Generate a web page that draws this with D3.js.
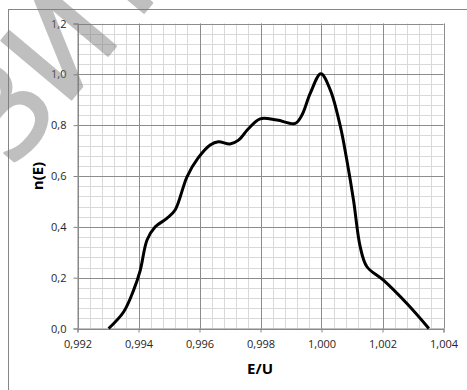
<!DOCTYPE html>
<html><head><meta charset="utf-8">
<script src="https://cdn.jsdelivr.net/npm/d3@7"></script>
<style>body{margin:0;background:#fff}svg{display:block}</style>
</head><body>
<svg id="c" width="467" height="390"></svg>
<script>
const energy = [0.99302,0.99351,0.99384,0.99406,0.99428,0.99455,0.99493,0.99520,0.99559,0.99595,0.99635,0.99662,0.99700,0.99728,0.99761,0.99799,0.99854,0.99914,0.99936,0.99963,0.99998,1.00029,1.00062,1.00083,1.00105,1.00127,1.00149,1.00203,1.00280,1.00352];
const density = [0.000,0.065,0.151,0.230,0.348,0.400,0.433,0.466,0.597,0.670,0.722,0.735,0.726,0.741,0.787,0.825,0.820,0.807,0.840,0.925,1.002,0.938,0.794,0.663,0.505,0.321,0.243,0.190,0.098,0.000];
const xTicks = [0.992,0.994,0.996,0.998,1.000,1.002,1.004];
const yTicks = [0,0.2,0.4,0.6,0.8,1.0,1.2];
const xTitle = "E/U", yTitle = "n(E)", watermark = "ЗИТ";

const svg = d3.select("#c");
const x = d3.scaleLinear().domain([0.992,1.004]).range([77.5,443.5]);
const y = d3.scaleLinear().domain([0,1.2]).range([328.5,23.5]);
const fmtX = v => d3.format(".3f")(v).replace(".", ",");
const fmtY = v => d3.format(".1f")(v).replace(".", ",");

// outer border
svg.append("rect").attr("x",8.5).attr("y",9.5).attr("width",480).attr("height",420)
  .attr("fill","none").attr("stroke","#868686").attr("stroke-width",1);

// minor grid
const minorX = d3.range(0,31).map(i=>0.992+i*0.0004);
const minorY = d3.range(0,31).map(i=>i*0.04);
const g = svg.append("g");
g.selectAll(".mx").data(minorX).join("line")
  .attr("x1",d=>Math.round(x(d))+0.5).attr("x2",d=>Math.round(x(d))+0.5)
  .attr("y1",y(1.2)).attr("y2",y(0)).attr("stroke","#d9d9d9");
g.selectAll(".my").data(minorY).join("line")
  .attr("y1",d=>Math.round(y(d))+0.5).attr("y2",d=>Math.round(y(d))+0.5)
  .attr("x1",x(0.992)).attr("x2",x(1.004)).attr("stroke","#d9d9d9");
// major grid
g.selectAll(".Mx").data(xTicks).join("line")
  .attr("x1",d=>Math.round(x(d))+0.5).attr("x2",d=>Math.round(x(d))+0.5)
  .attr("y1",y(1.2)).attr("y2",y(0)).attr("stroke","#8c8c8c");
g.selectAll(".My").data(yTicks).join("line")
  .attr("y1",d=>Math.round(y(d))+0.5).attr("y2",d=>Math.round(y(d))+0.5)
  .attr("x1",x(0.992)).attr("x2",x(1.004)).attr("stroke","#8c8c8c");

// axes
const xa = svg.append("g").attr("transform",`translate(0,${y(0)})`)
  .call(d3.axisBottom(x).tickValues(xTicks).tickFormat(fmtX).tickSize(4).tickPadding(8));
const ya = svg.append("g").attr("transform",`translate(${x(0.992)},0)`)
  .call(d3.axisLeft(y).tickValues(yTicks).tickFormat(fmtY).tickSize(4).tickPadding(7));
[xa,ya].forEach(a=>{
  a.select(".domain").attr("stroke","#868686");
  a.selectAll(".tick line").attr("stroke","#868686");
  a.selectAll("text").attr("font-family","'Open Sans', sans-serif").attr("font-size",11).attr("fill","#262626");
});

// line
const line = d3.line().x((d,i)=>x(energy[i])).y((d,i)=>y(density[i])).curve(d3.curveCatmullRom.alpha(0.5));
svg.append("path").datum(density).attr("d",line).attr("fill","none")
  .attr("stroke","#000").attr("stroke-width",3).attr("stroke-linejoin","round").attr("stroke-linecap","butt");

// titles
svg.append("text").attr("x",260).attr("y",374).attr("text-anchor","middle")
  .attr("font-family","'Open Sans', sans-serif").attr("font-weight","bold").attr("font-size",15).attr("fill","#000").text(xTitle);
svg.append("text").attr("transform","translate(43,176) rotate(-90)").attr("text-anchor","middle")
  .attr("font-family","'Open Sans', sans-serif").attr("font-weight","bold").attr("font-size",15).attr("fill","#000").text(yTitle);

// watermark
svg.append("text").attr("transform","translate(12,170) rotate(-50)")
  .attr("font-family","'DejaVu Sans', sans-serif").attr("font-weight","normal").attr("font-size",125)
  .attr("fill","#7a7a7a").attr("stroke","#7a7a7a").attr("stroke-width",2.5)
  .attr("stroke-linejoin","round").attr("opacity",0.48).text(watermark);
</script>
</body></html>
